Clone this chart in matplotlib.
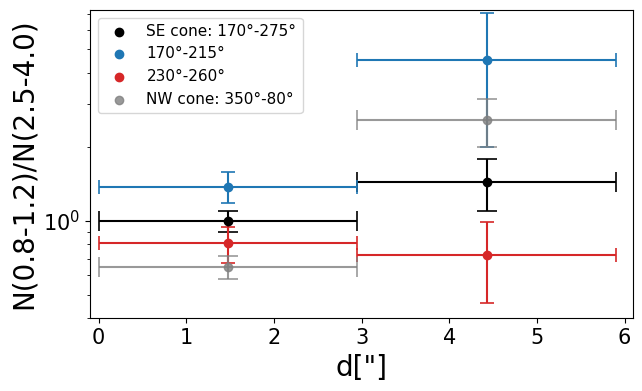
import matplotlib
matplotlib.use("Agg")
import matplotlib.pyplot as plt
import numpy as np

# Data
x_centers = [1.475, 4.425]
x_err = [1.475, 1.475]

se_vals = [1.0, 1.44]
se_lo = [0.897, 1.095]
se_hi = [1.095, 1.78]

b_vals = [1.373, 4.53]
b_lo = [1.178, 2.0]
b_hi = [1.58, 7.02]

r_vals = [0.809, 0.722]
r_lo = [0.67, 0.46]
r_hi = [0.945, 0.988]

nw_vals = [0.649, 2.58]
nw_lo = [0.578, 2.0]
nw_hi = [0.718, 3.14]

labels = ["SE cone: 170°-275°", "170°-215°", "230°-260°", "NW cone: 350°-80°"]

fig = plt.figure(figsize=(6.42, 3.91), dpi=100)
ax = fig.add_axes([0.140, 0.186, 0.8465, 0.7884])

def yerr(v, lo, hi):
    v = np.array(v); lo = np.array(lo); hi = np.array(hi)
    return np.vstack([v - lo, hi - v])

series = [
    (se_vals, se_lo, se_hi, "k", 1.0, 7, labels[0]),
    (b_vals, b_lo, b_hi, "tab:blue", 1.0, 5, labels[1]),
    (r_vals, r_lo, r_hi, "tab:red", 1.0, 5, labels[2]),
    (nw_vals, nw_lo, nw_hi, "gray", 0.8, 7, labels[3]),
]

for v, lo, hi, c, a, cs, lab in series:
    ax.errorbar(x_centers, v, xerr=x_err, yerr=yerr(v, lo, hi), fmt="o",
                color=c, alpha=a, capsize=cs, elinewidth=1.5, markersize=6,
                capthick=1.2)
    ax.scatter([], [], color=c, alpha=a, label=lab, s=36)

ax.set_yscale("log")
ax.set_ylim(0.40, 7.24)
ax.set_xlim(-0.1, 6.1)
ax.tick_params(axis="both", which="major", labelsize=15)
ax.set_xlabel('d["]', fontsize=20)
ax.set_ylabel("N(0.8-1.2)/N(2.5-4.0)", fontsize=20)
ax.legend(loc="upper left", fontsize=11)

fig.savefig("out.png", dpi=100)
